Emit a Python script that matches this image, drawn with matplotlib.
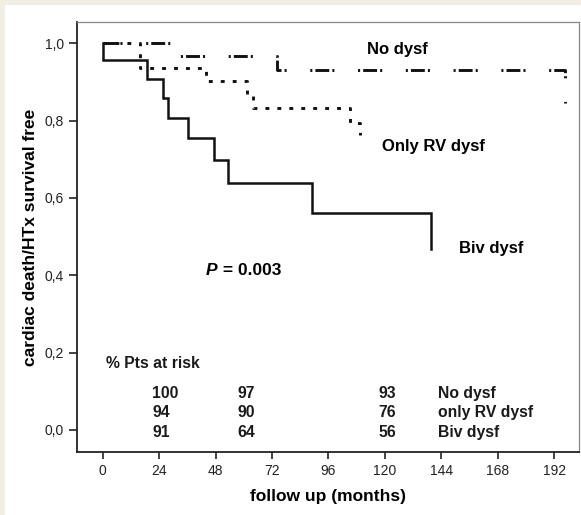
import matplotlib
matplotlib.use("Agg")
import matplotlib.pyplot as plt
from matplotlib.patches import Rectangle

# Kaplan-Meier steps (months, survival after the drop)
biv_times = [0, 18.9, 25.5, 27.9, 36.4, 47.2, 53.2, 88.8, 139.6]
biv_surv = [0.956, 0.908, 0.859, 0.808, 0.755, 0.697, 0.638, 0.560, 0.468]
biv_end = 139.6

rv_times = [16.0, 44.0, 61.3, 63.8, 105.0, 109.2]
rv_surv = [0.935, 0.902, 0.866, 0.832, 0.795, 0.763]
rv_end = 109.2

no_times = [30.1, 74.0, 196.4]
no_surv = [0.968, 0.931, 0.845]
no_end = 196.4

# patients at risk table
risk_groups = ["No dysf", "only RV dysf", "Biv dysf"]
risk_col1 = ["100", "94", "91"]
risk_col2 = ["97", "90", "64"]
risk_col3 = ["93", "76", "56"]

x_ticks = [0, 24, 48, 72, 96, 120, 144, 168, 192]
y_ticks = [0.0, 0.2, 0.4, 0.6, 0.8, 1.0]


def km_xy(times, surv, end):
    xs, ys = [0.0], [1.0]
    prev = 1.0
    for t, s in zip(times, surv):
        xs += [t, t]
        ys += [prev, s]
        prev = s
    if end > xs[-1]:
        xs.append(end)
        ys.append(prev)
    return xs, ys


plt.rcParams["font.family"] = ["Liberation Sans", "DejaVu Sans"]
plt.rcParams["lines.scale_dashes"] = False

fig = plt.figure(figsize=(5.81, 5.15), dpi=100, facecolor="#F1EEE3")
fig.patches.append(Rectangle((5 / 581, 0), 1, 1 - 5 / 515, transform=fig.transFigure,
                             facecolor="white", edgecolor="none", zorder=-1))

ax = fig.add_axes([0.132, 0.1233, 0.8645, 0.8334])
ax.set_facecolor("white")

x, y = km_xy(biv_times, biv_surv, biv_end)
ax.plot(x, y, color="#111111", lw=1.8, solid_joinstyle="miter")

x, y = km_xy(rv_times, rv_surv, rv_end)
ax.plot(x, y, color="#111111", lw=2.1, dashes=(2.8, 5.8), dash_capstyle="butt")

x, y = km_xy(no_times, no_surv, no_end)
ax.plot(x, y, color="#111111", lw=2.1, dashes=(10, 2.2, 1.5, 17, 1.5, 2.2),
        dash_capstyle="butt")

ax.set_xlim(-11.06, 202.5)
ax.set_ylim(-0.0556, 1.0543)
ax.set_xticks(x_ticks)
ax.set_yticks(y_ticks)
ax.set_yticklabels([f"{v:.1f}".replace(".", ",") for v in y_ticks])
ax.tick_params(axis="both", direction="out", width=1.2, color="#222222",
               labelsize=10, labelcolor="#222222")
ax.tick_params(axis="x", length=5, pad=4)
ax.tick_params(axis="y", length=6, pad=3)

for side in ["left", "bottom"]:
    ax.spines[side].set_linewidth(1.3)
    ax.spines[side].set_color("#222222")
for side in ["top", "right"]:
    ax.spines[side].set_linewidth(0.9)
    ax.spines[side].set_color("#888888")

ax.set_xlabel("follow up (months)", fontsize=12.5, fontweight="bold", labelpad=8)
ax.set_ylabel("cardiac death/HTx survival free", fontsize=12.5, fontweight="bold",
              labelpad=5)

ax.text(112.3, 0.983, "No dysf", fontsize=12, fontweight="bold", va="center")
ax.text(118.7, 0.734, "Only RV dysf", fontsize=12, fontweight="bold", va="center")
ax.text(151.7, 0.469, "Biv dysf", fontsize=12, fontweight="bold", va="center")

ptxt = ax.text(43.9, 0.413, "P", fontsize=12.5, fontweight="bold", style="italic",
               va="center")
ax.annotate(" = 0.003", xy=(1, 0), xycoords=ptxt, va="bottom", fontsize=12.5,
            fontweight="bold")

tbl_font = dict(fontsize=11.3, fontweight="bold", va="center", color="#1a1a1a")
ax.text(1.4, 0.171, "% Pts at risk", **tbl_font)
row_y = [0.0935, 0.044, -0.006]
for i in range(3):
    ax.text(21.1, row_y[i], risk_col1[i], **tbl_font)
    ax.text(57.3, row_y[i], risk_col2[i], **tbl_font)
    ax.text(117.1, row_y[i], risk_col3[i], **tbl_font)
    ax.text(142.7, row_y[i], risk_groups[i], **tbl_font)

fig.savefig("out.png", dpi=100, facecolor=fig.get_facecolor())
